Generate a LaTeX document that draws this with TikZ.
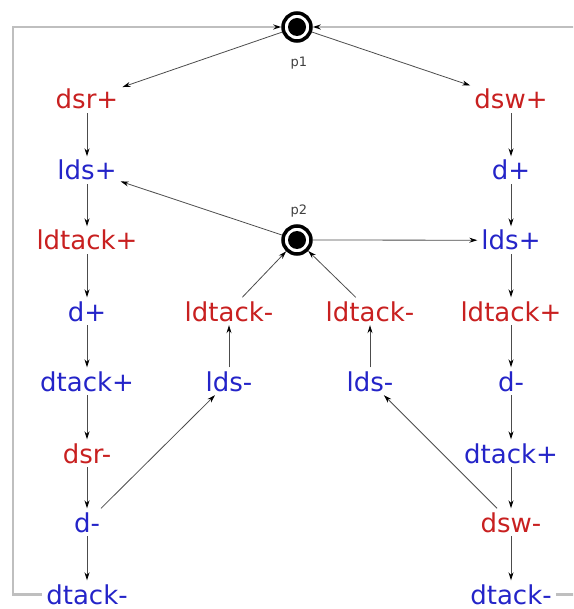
\documentclass[tikz,border=0pt]{standalone}
\usepackage{fontspec}
\setmainfont{DejaVu Sans}
\usetikzlibrary{arrows.meta}
\definecolor{sigred}{RGB}{200,32,32}
\definecolor{sigblue}{RGB}{36,36,200}
\begin{document}
\begin{tikzpicture}[x=1pt,y=-1pt,
  sig/.style={font=\fontsize{26}{26}\selectfont, text height=19.5pt, text depth=0pt, inner sep=4pt, anchor=base},
  rsig/.style={sig, text=sigred},
  bsig/.style={sig, text=sigblue},
  pl/.style={circle, draw=black, line width=3.5pt, minimum size=28pt, inner sep=0pt,
    path picture={\fill[black] (path picture bounding box.center) circle (9pt);}},
  plabel/.style={font=\fontsize{13}{13}\selectfont, text=black!75, inner sep=0pt},
  flow/.style={draw=black!70, line width=0.8pt, -{Stealth[length=8pt,width=5pt,color=black]}},
  backflow/.style={draw=black!25, line width=2.5pt, -{Stealth[length=8pt,width=5pt,color=black]}},
]
\clip (0,0) rectangle (573,609);

% places
\node[pl] (p1) at (297,27) {};
\node[plabel] (p1lab) at (299,63) {p1};
\node[pl] (p2) at (297,240) {};
\node[plabel] (p2lab) at (299,211) {p2};

% left branch
\node[rsig] (dsrP)    at (87,109) {dsr+};
\node[bsig] (ldsPL)   at (87,180) {lds+};
\node[rsig] (ldtPL)   at (87,250) {ldtack+};
\node[bsig] (dPL)     at (87,321) {d+};
\node[bsig] (dtkPL)   at (87,391) {dtack+};
\node[rsig] (dsrM)    at (87,463) {dsr-};
\node[bsig] (dML)     at (87,532) {d-};
\node[bsig] (dtkML)   at (87,604) {dtack-};

% inner branches
\node[rsig] (ldtMA)   at (229,321) {ldtack-};
\node[bsig] (ldsMA)   at (229,391) {lds-};
\node[rsig] (ldtMB)   at (370,321) {ldtack-};
\node[bsig] (ldsMB)   at (370,391) {lds-};

% right branch
\node[rsig] (dswP)    at (511,109) {dsw+};
\node[bsig] (dPR)     at (511,180) {d+};
\node[bsig] (ldsPR)   at (511,250) {lds+};
\node[rsig] (ldtPR)   at (511,321) {ldtack+};
\node[bsig] (dMR)     at (511,391) {d-};
\node[bsig] (dtkPR)   at (511,463) {dtack+};
\node[rsig] (dswM)    at (511,532) {dsw-};
\node[bsig] (dtkMR)   at (511,604) {dtack-};

\coordinate (lcorner) at (13,27);
\coordinate (rcorner) at (590,27);

% arcs
\draw[flow] (p1) -- (dsrP);
\draw[flow] (p1) -- (dswP);
\draw[flow] (dsrP) -- (ldsPL);
\draw[flow] (ldsPL) -- (ldtPL);
\draw[flow] (ldtPL) -- (dPL);
\draw[flow] (dPL) -- (dtkPL);
\draw[flow] (dtkPL) -- (dsrM);
\draw[flow] (dsrM) -- (dML);
\draw[flow] (dML) -- (dtkML);

\draw[flow] (dswP) -- (dPR);
\draw[flow] (dPR) -- (ldsPR);
\draw[flow] (ldsPR) -- (ldtPR);
\draw[flow] (ldtPR) -- (dMR);
\draw[flow] (dMR) -- (dtkPR);
\draw[flow] (dtkPR) -- (dswM);
\draw[flow] (dswM) -- (dtkMR);

\draw[flow] (p2) -- (ldsPL);
\draw[flow] (p2) -- (ldsPR);
\draw[flow] (dML) -- (ldsMA);
\draw[flow] (ldsMA) -- (ldtMA);
\draw[flow] (ldtMA) -- (p2);
\draw[flow] (dswM) -- (ldsMB);
\draw[flow] (ldsMB) -- (ldtMB);
\draw[flow] (ldtMB) -- (p2);

% returns to p1
\draw[backflow] (dtkML.west) -| (lcorner) -- (p1.west);
\draw[backflow] (dtkMR.east) -| (rcorner) -- (p1.east);
\end{tikzpicture}
\end{document}
